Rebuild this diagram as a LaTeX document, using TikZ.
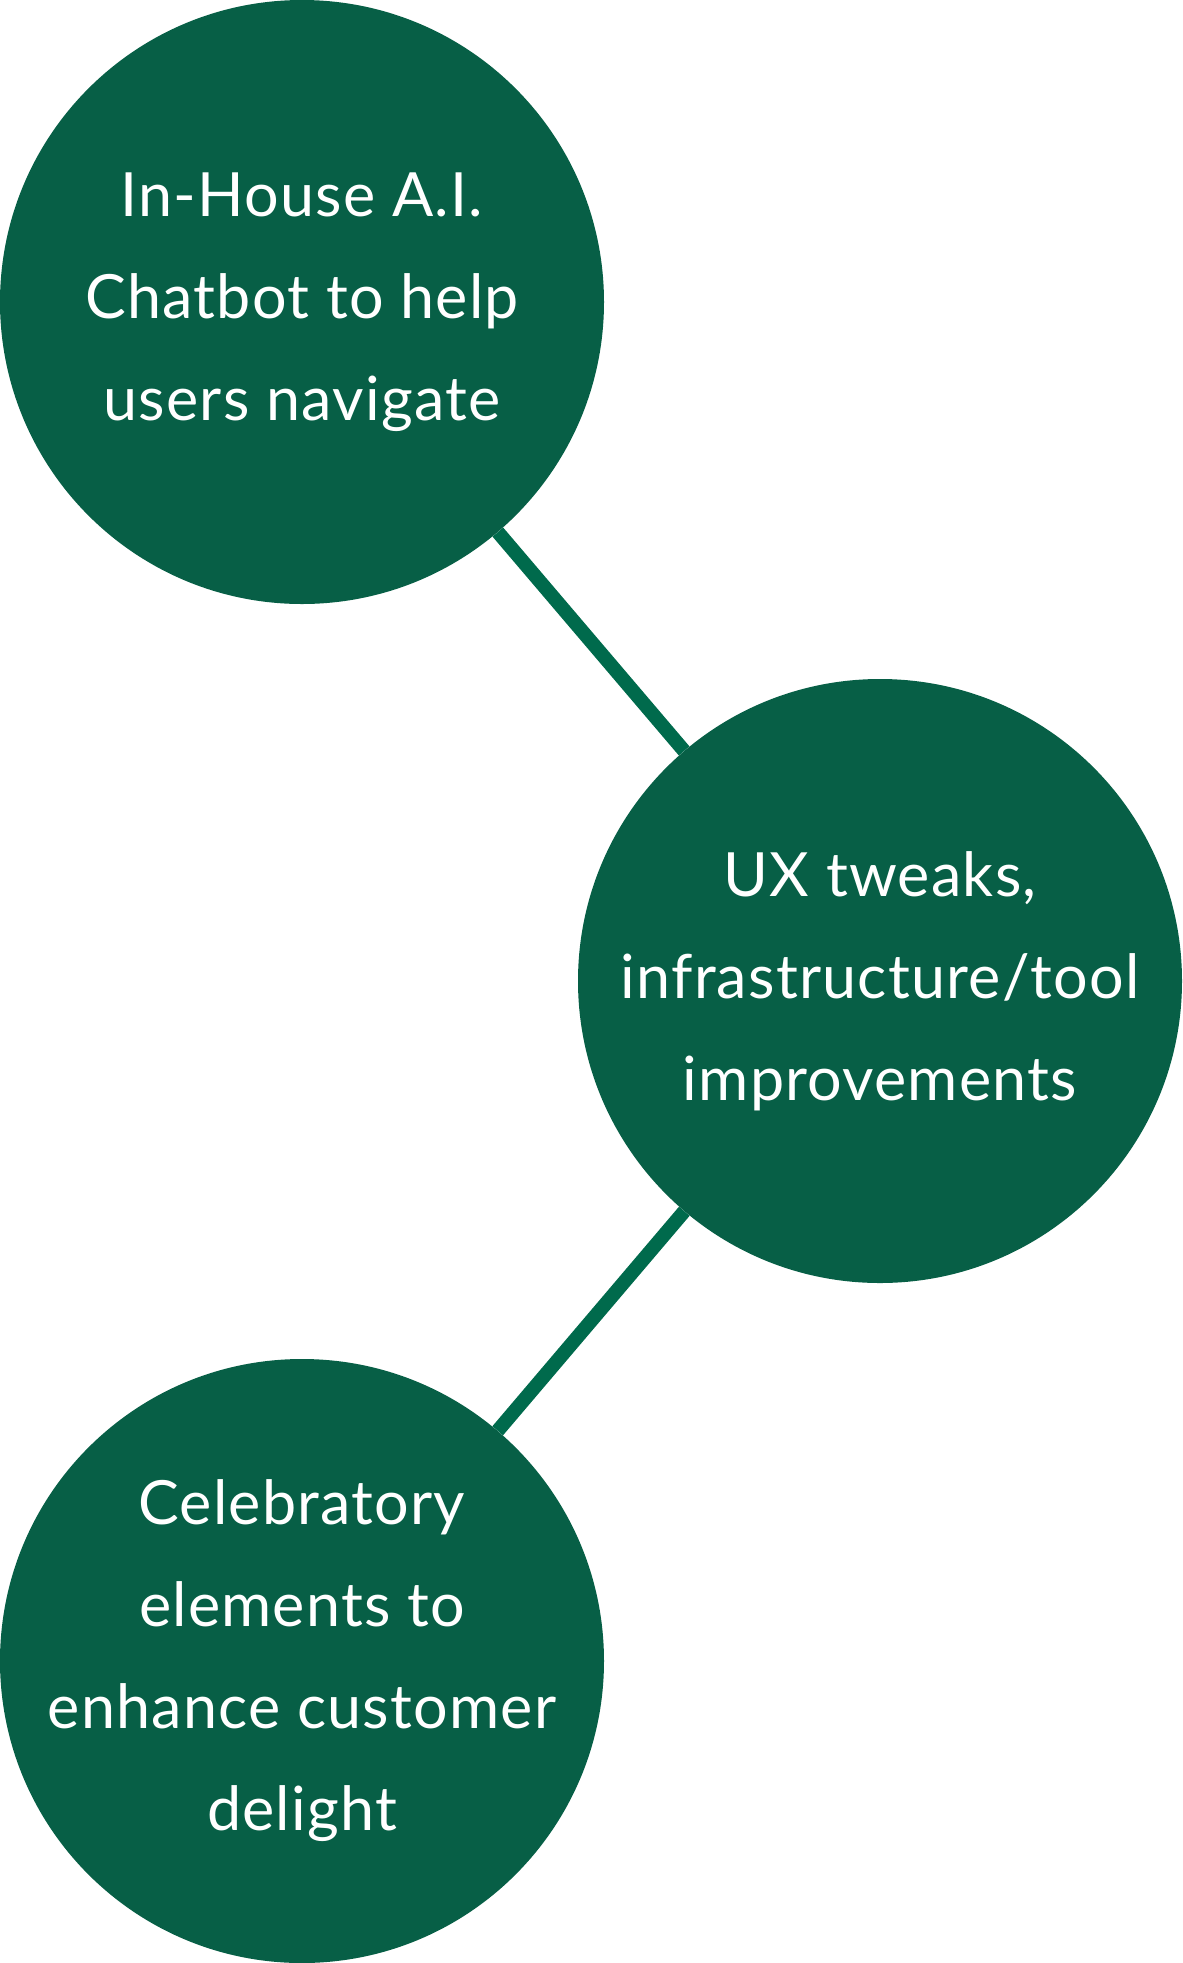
\documentclass[tikz,border=0pt]{standalone}
\usepackage{fontspec}
\setmainfont{Lato}[LetterSpace=2]
\definecolor{bubblegreen}{HTML}{075F46}
\definecolor{linkgreen}{HTML}{006A4C}
\begin{document}
\begin{tikzpicture}[x=1pt,y=-1pt,
    bubble/.style={circle,fill=bubblegreen,minimum size=604pt,inner sep=-100pt,
        text=white,align=center,font=\fontsize{61}{102}\selectfont},
    link/.style={linkgreen,line width=14pt}]
    \useasboundingbox (0,0) rectangle (1183,1963);
    \node[bubble] (chatbot) at (302,302) {In-House A.I.\\Chatbot to help\\users navigate};
    \node[bubble] (tweaks) at (880,981) {UX tweaks,\\infrastructure/tool\\improvements};
    \node[bubble] (delight) at (302,1661) {Celebratory\\elements to\\enhance customer\\delight};
    \draw[link] (chatbot) -- (tweaks);
    \draw[link] (tweaks) -- (delight);
\end{tikzpicture}
\end{document}
